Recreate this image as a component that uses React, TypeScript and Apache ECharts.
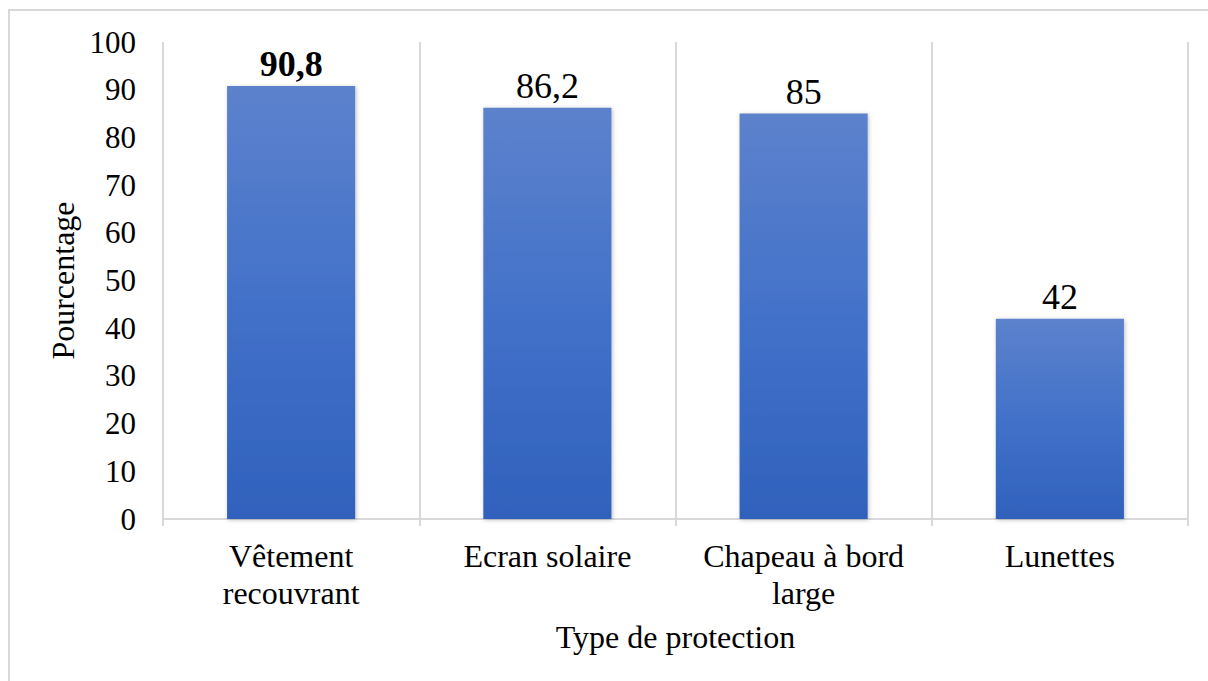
import React, { useEffect, useRef } from "react";
import * as echarts from "echarts";

const categories = ["Vêtement\nrecouvrant", "Ecran solaire", "Chapeau à bord\nlarge", "Lunettes"];
const values = [90.8, 86.2, 85, 42];
const boldLabels = [true, false, false, false];
const yTicks = { min: 0, max: 100, interval: 10 };

const FONT = "'Liberation Serif', 'Times New Roman', serif";

export default function App() {
  const ref = useRef<HTMLDivElement>(null);

  useEffect(() => {
    if (!ref.current) return;
    const chart = echarts.init(ref.current, null, { renderer: "svg" });
    const barColor = new echarts.graphic.LinearGradient(0, 0, 0, 1, [
      { offset: 0, color: "#5c82cc" },
      { offset: 0.5, color: "#4371c9" },
      { offset: 1, color: "#2f61bc" },
    ]);
    const serif = (size: number, weight = "normal") => ({
      fontFamily: FONT,
      fontSize: size,
      fontWeight: weight,
      color: "#000",
    });
    chart.setOption({
      animation: false,
      backgroundColor: "#ffffff",
      textStyle: { fontFamily: FONT, color: "#000" },
      graphic: [
        {
          type: "rect",
          shape: { x: 9, y: 10, width: 1210, height: 690 },
          style: { fill: "none", stroke: "#d9d9d9", lineWidth: 2 },
          silent: true,
        },
      ],
      grid: { left: 163, right: 20, top: 42, bottom: 162, containLabel: false },
      xAxis: {
        type: "category",
        data: categories,
        name: "Type de protection",
        nameLocation: "middle",
        nameGap: 102,
        nameTextStyle: serif(32),
        axisLine: { show: true, lineStyle: { color: "#d9d9d9", width: 2 } },
        axisTick: { show: true, length: 7, lineStyle: { color: "#d9d9d9", width: 2 } },
        splitLine: { show: true, lineStyle: { color: "#d9d9d9", width: 2 } },
        axisLabel: {
          ...serif(32),
          lineHeight: 37,
          margin: 18,
          interval: 0,
        },
      },
      yAxis: {
        type: "value",
        min: yTicks.min,
        max: yTicks.max,
        interval: yTicks.interval,
        name: "Pourcentage",
        nameLocation: "middle",
        nameGap: 82,
        nameRotate: 90,
        nameTextStyle: serif(32),
        axisLine: { show: false },
        axisTick: { show: false },
        splitLine: { show: false },
        axisLabel: { ...serif(31), margin: 27 },
      },
      series: [
        {
          type: "bar",
          barWidth: "50%",
          data: values.map((v, i) => ({
            value: v,
            label: { fontWeight: boldLabels[i] ? "bold" : "normal" },
          })),
          itemStyle: {
            color: barColor,
            shadowColor: "rgba(0,0,0,0.25)",
            shadowBlur: 4,
            shadowOffsetX: 1,
            shadowOffsetY: 1,
          },
          label: {
            show: true,
            position: "top",
            distance: 4,
            ...serif(36),
            formatter: (p: any) => String(p.value).replace(".", ","),
          },
        },
      ],
    });
    return () => chart.dispose();
  }, []);

  return (
    <div
      ref={ref}
      style={{ position: "fixed", left: 0, top: 0, width: 1208, height: 681 }}
    />
  );
}
